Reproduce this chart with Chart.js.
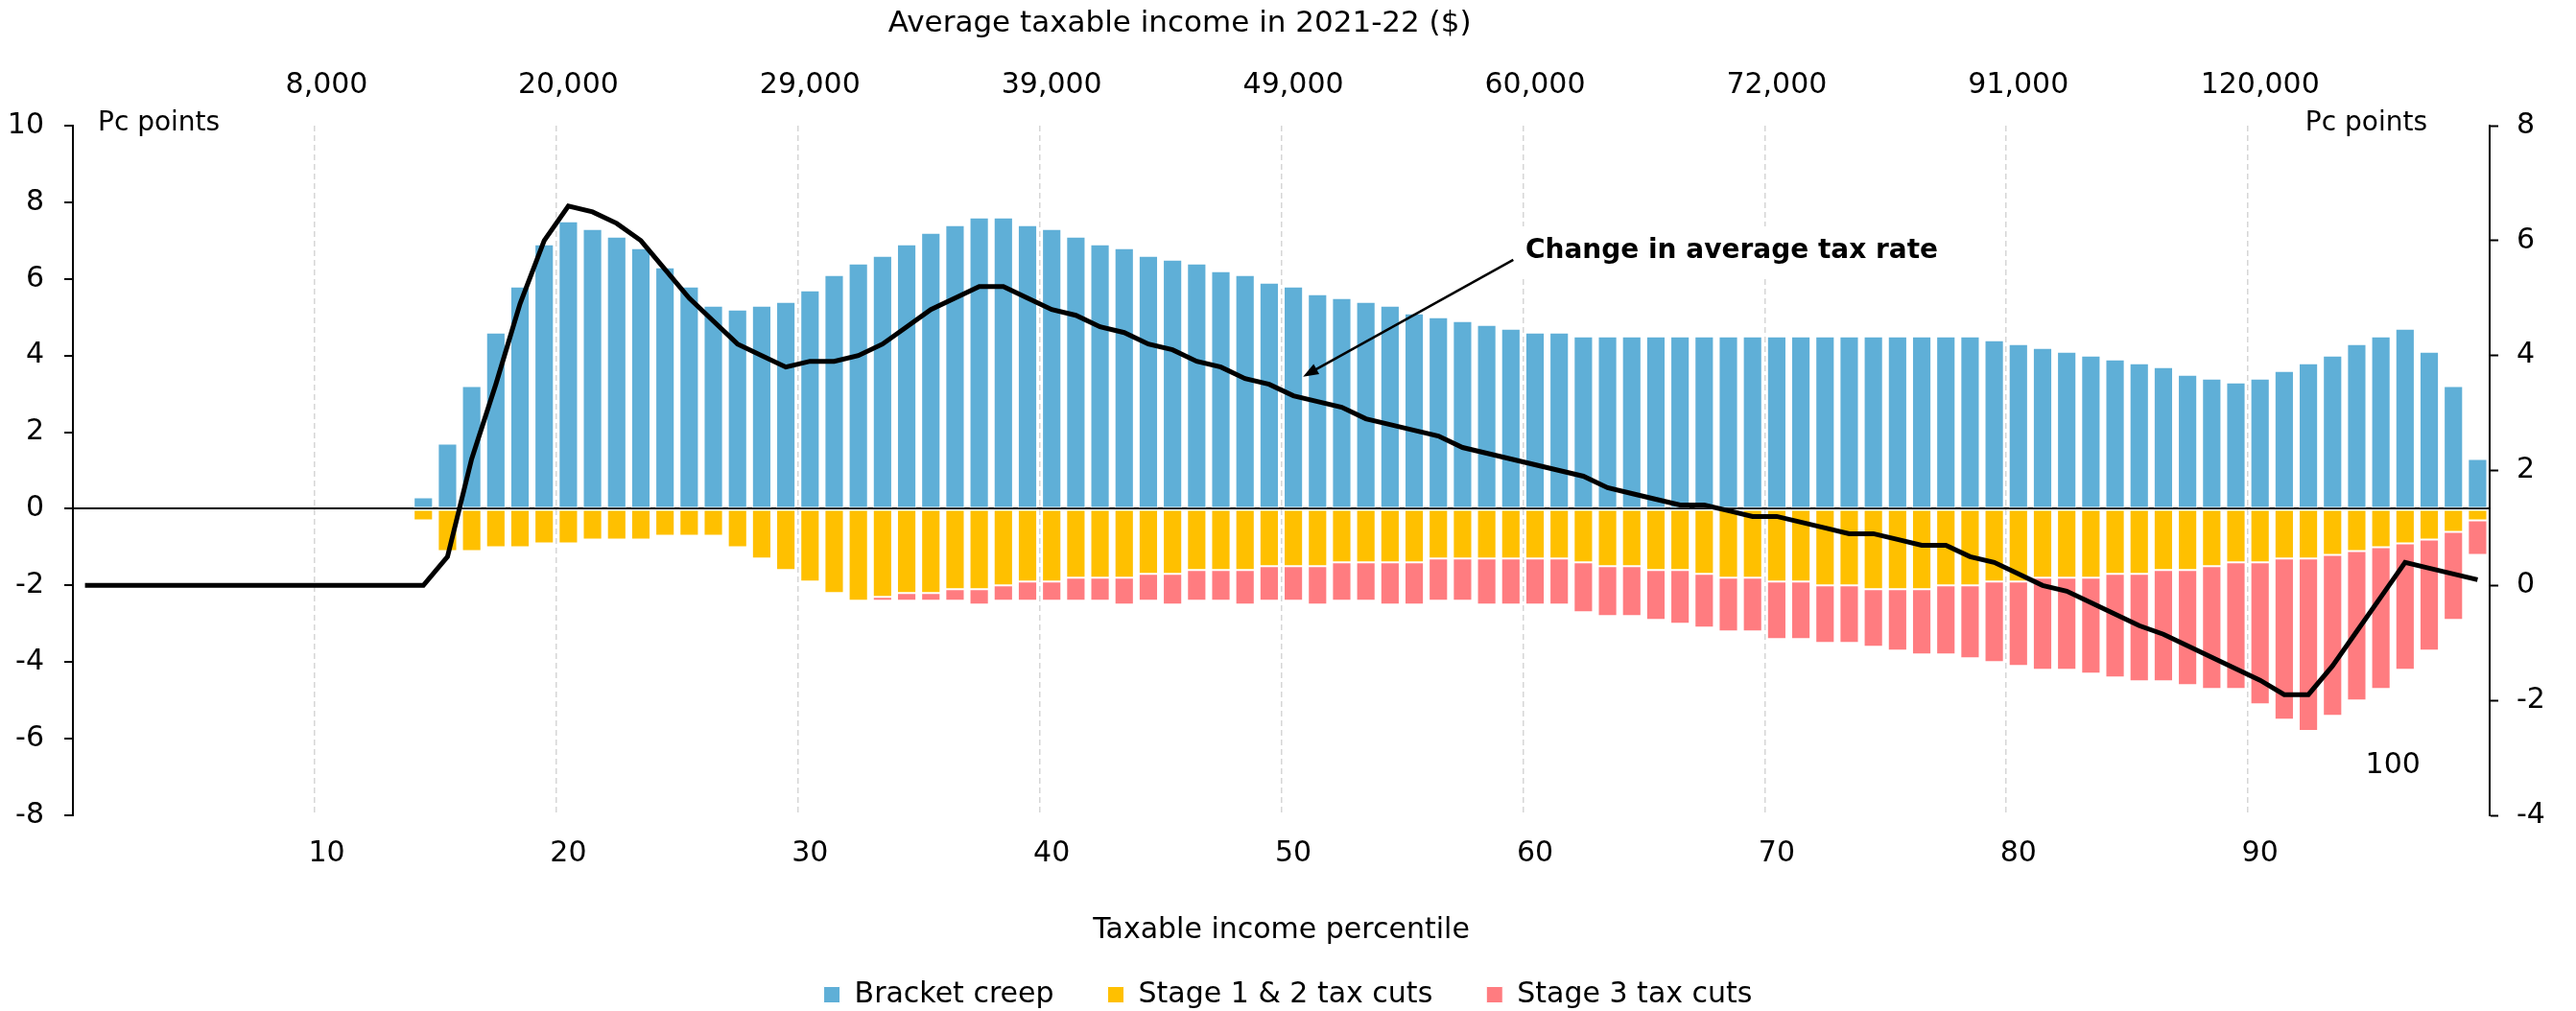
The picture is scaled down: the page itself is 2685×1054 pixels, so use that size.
<!DOCTYPE html>
<html lang="en">
<head>
  <meta charset="UTF-8">
  <title>Bracket creep and tax cuts by income percentile</title>
  <script src="https://cdn.jsdelivr.net/npm/chart.js"></script>
  <style>
    html, body {
      margin: 0;
      padding: 0;
      background: #ffffff;
      overflow: hidden;
    }
    .chart-box {
      width: 2685px;
      height: 1054px;
    }
  </style>
</head>
<body>
  <div class="chart-box">
    <canvas id="taxChart"></canvas>
  </div>

  <script>
    // percentile index 0..99 (one bar per percentile)
    const percentiles = Array.from({ length: 100 }, (_, i) => String(i));

    const bottomTicks = ['10', '20', '30', '40', '50', '60', '70', '80', '90'];
    const topTicks = ['8,000', '20,000', '29,000', '39,000', '49,000', '60,000', '72,000', '91,000', '120,000'];

    // Pc points, left axis
    const bracketCreep = [
      null, null, null, null, null, null, null, null, null, null,
      null, null, null, null, 0.3, 1.7, 3.2, 4.6, 5.8, 6.9,
      7.5, 7.3, 7.1, 6.8, 6.3, 5.8, 5.3, 5.2, 5.3, 5.4,
      5.7, 6.1, 6.4, 6.6, 6.9, 7.2, 7.4, 7.6, 7.6, 7.4,
      7.3, 7.1, 6.9, 6.8, 6.6, 6.5, 6.4, 6.2, 6.1, 5.9,
      5.8, 5.6, 5.5, 5.4, 5.3, 5.1, 5.0, 4.9, 4.8, 4.7,
      4.6, 4.6, 4.5, 4.5, 4.5, 4.5, 4.5, 4.5, 4.5, 4.5,
      4.5, 4.5, 4.5, 4.5, 4.5, 4.5, 4.5, 4.5, 4.5, 4.4,
      4.3, 4.2, 4.1, 4.0, 3.9, 3.8, 3.7, 3.5, 3.4, 3.3,
      3.4, 3.6, 3.8, 4.0, 4.3, 4.5, 4.7, 4.1, 3.2, 1.3
    ];

    const stage12Cuts = [
      null, null, null, null, null, null, null, null, null, null,
      null, null, null, null, -0.3, -1.1, -1.1, -1.0, -1.0, -0.9,
      -0.9, -0.8, -0.8, -0.8, -0.7, -0.7, -0.7, -1.0, -1.3, -1.6,
      -1.9, -2.2, -2.4, -2.3, -2.2, -2.2, -2.1, -2.1, -2.0, -1.9,
      -1.9, -1.8, -1.8, -1.8, -1.7, -1.7, -1.6, -1.6, -1.6, -1.5,
      -1.5, -1.5, -1.4, -1.4, -1.4, -1.4, -1.3, -1.3, -1.3, -1.3,
      -1.3, -1.3, -1.4, -1.5, -1.5, -1.6, -1.6, -1.7, -1.8, -1.8,
      -1.9, -1.9, -2.0, -2.0, -2.1, -2.1, -2.1, -2.0, -2.0, -1.9,
      -1.9, -1.8, -1.8, -1.8, -1.7, -1.7, -1.6, -1.6, -1.5, -1.4,
      -1.4, -1.3, -1.3, -1.2, -1.1, -1.0, -0.9, -0.8, -0.6, -0.3
    ];

    const stage3Cuts = [
      null, null, null, null, null, null, null, null, null, null,
      null, null, null, null, null, null, null, null, null, null,
      null, null, null, null, null, null, null, null, null, null,
      null, null, null, -0.1, -0.2, -0.2, -0.3, -0.4, -0.4, -0.5,
      -0.5, -0.6, -0.6, -0.7, -0.7, -0.8, -0.8, -0.8, -0.9, -0.9,
      -0.9, -1.0, -1.0, -1.0, -1.1, -1.1, -1.1, -1.1, -1.2, -1.2,
      -1.2, -1.2, -1.3, -1.3, -1.3, -1.3, -1.4, -1.4, -1.4, -1.4,
      -1.5, -1.5, -1.5, -1.5, -1.5, -1.6, -1.7, -1.8, -1.9, -2.1,
      -2.2, -2.4, -2.4, -2.5, -2.7, -2.8, -2.9, -3.0, -3.2, -3.3,
      -3.7, -4.2, -4.5, -4.2, -3.9, -3.7, -3.3, -2.9, -2.3, -0.9
    ];

    // Pc points, right axis
    const avgRateChange = [
      0, 0, 0, 0, 0, 0, 0, 0, 0, 0,
      0, 0, 0, 0, 0, 0.5, 2.2, 3.5, 4.9, 6.0,
      6.6, 6.5, 6.3, 6.0, 5.5, 5.0, 4.6, 4.2, 4.0, 3.8,
      3.9, 3.9, 4.0, 4.2, 4.5, 4.8, 5.0, 5.2, 5.2, 5.0,
      4.8, 4.7, 4.5, 4.4, 4.2, 4.1, 3.9, 3.8, 3.6, 3.5,
      3.3, 3.2, 3.1, 2.9, 2.8, 2.7, 2.6, 2.4, 2.3, 2.2,
      2.1, 2.0, 1.9, 1.7, 1.6, 1.5, 1.4, 1.4, 1.3, 1.2,
      1.2, 1.1, 1.0, 0.9, 0.9, 0.8, 0.7, 0.7, 0.5, 0.4,
      0.2, 0.0, -0.1, -0.3, -0.5, -0.7, -0.85, -1.05, -1.25, -1.45,
      -1.65, -1.9, -1.9, -1.4, -0.8, -0.2, 0.4, 0.3, 0.2, 0.1
    ];

    const FONT = '"DejaVu Sans", sans-serif';
    Chart.defaults.font.family = FONT;
    Chart.defaults.font.size = 30;
    Chart.defaults.color = '#000000';

    // free text, annotation arrow, stray "100" label
    const notesPlugin = {
      id: 'notes',
      afterDatasetsDraw(chart) {
        const { ctx, chartArea: a, scales: { x, y } } = chart;
        ctx.save();
        ctx.fillStyle = '#000';
        ctx.textBaseline = 'middle';

        ctx.font = '28px ' + FONT;
        ctx.textAlign = 'left';
        ctx.fillText('Pc points', a.left + 26, a.top - 2);
        ctx.textAlign = 'right';
        ctx.fillText('Pc points', a.right - 65, a.top - 2);

        ctx.textAlign = 'center';
        ctx.font = '31px ' + FONT;
        ctx.fillText('Average taxable income in 2021-22 ($)', x.getPixelForValue(45.3), 25);
        ctx.font = '30px ' + FONT;
        ctx.fillText('100', x.getPixelForValue(95.5), y.getPixelForValue(-6.7));

        const label = 'Change in average tax rate';
        ctx.font = 'bold 28px ' + FONT;
        const lx = x.getPixelForValue(59.6);
        const ly = y.getPixelForValue(6.72);
        const w = ctx.measureText(label).width;
        ctx.fillStyle = '#fff';
        ctx.fillRect(lx - 9, ly - 26, w + 17, 52);
        ctx.fillStyle = '#000';
        ctx.textAlign = 'left';
        ctx.fillText(label, lx, ly);

        const x0 = x.getPixelForValue(59.1), y0 = y.getPixelForValue(6.5);
        const x1 = x.getPixelForValue(50.4), y1 = y.getPixelForValue(3.45);
        const ang = Math.atan2(y1 - y0, x1 - x0);
        const head = 16;
        ctx.strokeStyle = '#000';
        ctx.lineWidth = 2.5;
        ctx.beginPath();
        ctx.moveTo(x0, y0);
        ctx.lineTo(x1 - Math.cos(ang) * head * 0.8, y1 - Math.sin(ang) * head * 0.8);
        ctx.stroke();
        ctx.beginPath();
        ctx.moveTo(x1, y1);
        ctx.lineTo(x1 - head * Math.cos(ang) + 6 * Math.sin(ang), y1 - head * Math.sin(ang) - 6 * Math.cos(ang));
        ctx.lineTo(x1 - head * Math.cos(ang) - 6 * Math.sin(ang), y1 - head * Math.sin(ang) + 6 * Math.cos(ang));
        ctx.closePath();
        ctx.fill();
        ctx.restore();
      }
    };

    const barStyle = {
      type: 'bar',
      borderColor: '#ffffff',
      borderWidth: 1,
      borderSkipped: false,
      barPercentage: 0.8,
      categoryPercentage: 1,
      order: 1
    };

    new Chart(document.getElementById('taxChart'), {
      data: {
        labels: percentiles,
        datasets: [
          { ...barStyle, label: 'Bracket creep', data: bracketCreep, backgroundColor: '#5fafd7' },
          { ...barStyle, label: 'Stage 1 & 2 tax cuts', data: stage12Cuts, backgroundColor: '#ffc000' },
          { ...barStyle, label: 'Stage 3 tax cuts', data: stage3Cuts, backgroundColor: '#ff7c80' },
          {
            type: 'line',
            label: 'Change in average tax rate',
            data: avgRateChange,
            yAxisID: 'y2',
            borderColor: '#000000',
            borderWidth: 5,
            pointRadius: 0,
            tension: 0,
            fill: false,
            order: 0
          }
        ]
      },
      options: {
        responsive: true,
        maintainAspectRatio: false,
        animation: false,
        layout: { padding: { top: 0, left: 0, right: 0, bottom: -8 } },
        plugins: {
          tooltip: { enabled: false },
          legend: {
            position: 'bottom',
            labels: {
              boxWidth: 17,
              boxHeight: 17,
              padding: 56,
              font: { size: 30 },
              filter: item => item.datasetIndex < 3
            }
          }
        },
        scales: {
          x: {
            type: 'category',
            position: 'bottom',
            stacked: true,
            offset: true,
            grid: {
              offset: true,
              drawTicks: false,
              lineWidth: 1.5,
              color: c => (c.index % 10 === 0 && c.index > 0 && c.index < 100) ? '#d6d6d6' : 'transparent'
            },
            border: { display: false, dash: [6, 4] },
            ticks: {
              autoSkip: false,
              maxRotation: 0,
              minRotation: 0,
              padding: 22,
              callback: (v, i) => (i % 10 === 0 && i > 0) ? bottomTicks[i / 10 - 1] : ''
            },
            title: {
              display: true,
              text: 'Taxable income percentile',
              padding: { top: 0, bottom: -22 }
            },
            afterFit: s => { s.height = 116; }
          },
          x2: {
            type: 'category',
            position: 'top',
            offset: true,
            grid: { display: false, drawTicks: false },
            border: { display: false },
            ticks: {
              autoSkip: false,
              maxRotation: 0,
              minRotation: 0,
              padding: 24,
              callback: (v, i) => (i % 10 === 0 && i > 0) ? topTicks[i / 10 - 1] : ''
            },
            afterFit: s => { s.height = 131; }
          },
          y: {
            position: 'left',
            stacked: true,
            min: -8,
            max: 10,
            ticks: { stepSize: 2, padding: 21 },
            grid: {
              color: c => (c.tick && c.tick.value === 0) ? '#000000' : 'transparent',
              lineWidth: 2,
              tickColor: '#000000',
              tickLength: 9,
              tickWidth: 2
            },
            border: { display: true, color: '#000000', width: 2 },
            afterFit: s => { s.width = 76; }
          },
          y2: {
            position: 'right',
            min: -4,
            max: 8,
            ticks: { stepSize: 2, padding: 19 },
            grid: {
              drawOnChartArea: false,
              tickColor: '#000000',
              tickLength: 9,
              tickWidth: 2
            },
            border: { display: true, color: '#000000', width: 2 },
            afterFit: s => { s.width = 90; }
          }
        }
      },
      plugins: [notesPlugin]
    });
  </script>
</body>
</html>
